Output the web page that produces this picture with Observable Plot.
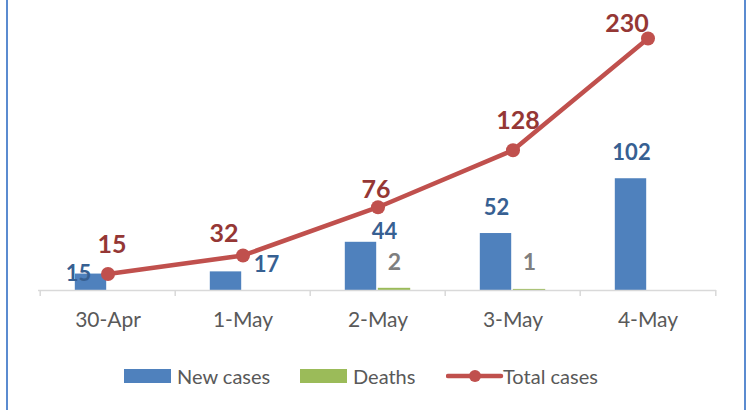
<!DOCTYPE html>
<html><head><meta charset="utf-8">
<script src="https://cdn.jsdelivr.net/npm/d3@7"></script>
<script src="https://cdn.jsdelivr.net/npm/@observablehq/plot@0.6"></script>
<style>
body{margin:0;background:#fff;font-family:Lato,"Open Sans",sans-serif}
#wrap{position:relative;width:747px;height:410px;overflow:hidden;background:#fff}
#frame{position:absolute;left:6px;top:-10px;width:740px;height:440px;border:2px solid #5B8BD0;box-sizing:border-box;pointer-events:none}
#chart{position:absolute;left:0;top:0}
.lg{position:absolute;top:376px;transform:translateY(-50%);font-size:20px;color:#595959;white-space:nowrap;line-height:1}
.sw{position:absolute;top:369px;height:14px;width:47px}
</style></head>
<body>
<div id="wrap">
  <div id="chart"></div>
  <div id="legend"></div>
  <div id="frame"></div>
</div>
<script>
// ---- data ----
const dates = ["30-Apr", "1-May", "2-May", "3-May", "4-May"];
const newCases = [15, 17, 44, 52, 102];
const deaths = [0, 0, 2, 1, 0];
const totalCases = [15, 32, 76, 128, 230];
const seriesNames = ["New cases", "Deaths", "Total cases"];

// ---- layout / style ----
const W = 747, H = 350, mL = 38, mR = 31, mT = 38, mB = 60;
const bw = (W - mL - mR) / dates.length;
const yMax = 230;
const pxPerUnit = (H - mT - mB) / yMax;
const colors = {newCases: "#4F81BD", deaths: "#9BBB59", total: "#C0504D",
  newLabel: "#376092", deathLabel: "#7F7F7F", totalLabel: "#953735"};
// per-label offsets (pixels) as positioned in the original
const newLabelOff = [[-13, 0], [40, -7], [23, -10], [0, -26], [0, -26]];
const deathLabelOff = [[0, -26], [0, -26], [0, -26], [0, -27], [0, -26]];
const totalLabelOff = [[4, -29], [-19, -21], [-2, -17], [5, -29], [-21, -15]];

const rows = dates.map((d, i) => ({date: d, newCases: newCases[i], deaths: deaths[i], total: totalCases[i], i}));
const tickLen = 6 / pxPerUnit;

const textMarks = [];
rows.forEach((r, i) => {
  textMarks.push(Plot.text([r], {x: "date", y: "newCases", text: d => String(d.newCases),
    dx: -16.5 + newLabelOff[i][0], dy: newLabelOff[i][1], fill: colors.newLabel,
    fontSize: 22, fontWeight: "bold"}));
  if (r.deaths > 0) textMarks.push(Plot.text([r], {x: "date", y: "deaths", text: d => String(d.deaths),
    dx: 16.5 + deathLabelOff[i][0], dy: deathLabelOff[i][1], fill: colors.deathLabel,
    fontSize: 23, fontWeight: "bold"}));
  textMarks.push(Plot.text([r], {x: "date", y: "total", text: d => String(d.total),
    dx: totalLabelOff[i][0], dy: totalLabelOff[i][1], fill: colors.totalLabel,
    fontSize: 25, fontWeight: "bold"}));
});

// leader line for the "17" label (from bar top to label)
const leader = rows.filter(r => r.date === "1-May");

const chart = Plot.plot({
  width: W, height: H, marginLeft: mL, marginRight: mR, marginTop: mT, marginBottom: mB,
  style: {fontFamily: "Lato, 'Open Sans', sans-serif", background: "transparent", overflow: "visible"},
  x: {type: "band", domain: dates, padding: 0, axis: null},
  y: {domain: [0, yMax], axis: null},
  marks: [
    Plot.barY(rows, {x: "date", y: "newCases", fill: colors.newCases, insetLeft: bw / 2 - 33, insetRight: bw / 2 + 1}),
    Plot.barY(rows, {x: "date", y: "deaths", fill: colors.deaths, insetLeft: bw / 2, insetRight: bw / 2 - 33}),
    Plot.ruleY([0], {stroke: "#D9D9D9", strokeWidth: 1.5}),
    Plot.ruleX(rows, {x: "date", dx: -bw / 2, y1: 0, y2: -tickLen, stroke: "#D9D9D9", strokeWidth: 1.5}),
    Plot.ruleX([rows[rows.length - 1]], {x: "date", dx: bw / 2, y1: 0, y2: -tickLen, stroke: "#D9D9D9", strokeWidth: 1.5}),
    Plot.axisX({tickSize: 0, tickPadding: 22, fontSize: 21, color: "#595959", label: null}),
    Plot.link(leader, {x1: "date", x2: "date", y1: "newCases", y2: "newCases", dx: -17, stroke: "#A6A6A6", strokeWidth: 1,
      markerEnd: null, curve: "linear",
      transform: null}),
    Plot.lineY(rows, {x: "date", y: "total", stroke: colors.total, strokeWidth: 4.5}),
    Plot.dot(rows, {x: "date", y: "total", r: 7, fill: colors.total}),
    ...textMarks
  ]
});
document.getElementById("chart").appendChild(chart);

// ---- legend ----
const lg = document.getElementById("legend");
lg.innerHTML =
  `<div class="sw" style="left:124px;background:${colors.newCases}"></div>` +
  `<div class="lg" style="left:177px">${seriesNames[0]}</div>` +
  `<div class="sw" style="left:300px;background:${colors.deaths}"></div>` +
  `<div class="lg" style="left:353px">${seriesNames[1]}</div>` +
  `<svg style="position:absolute;left:446px;top:366px" width="58" height="20"><line x1="2" x2="55" y1="10" y2="10" stroke="${colors.total}" stroke-width="4.5" stroke-linecap="round"/><circle cx="29" cy="10" r="6" fill="${colors.total}"/></svg>` +
  `<div class="lg" style="left:503px">${seriesNames[2]}</div>`;
</script>
</body></html>
